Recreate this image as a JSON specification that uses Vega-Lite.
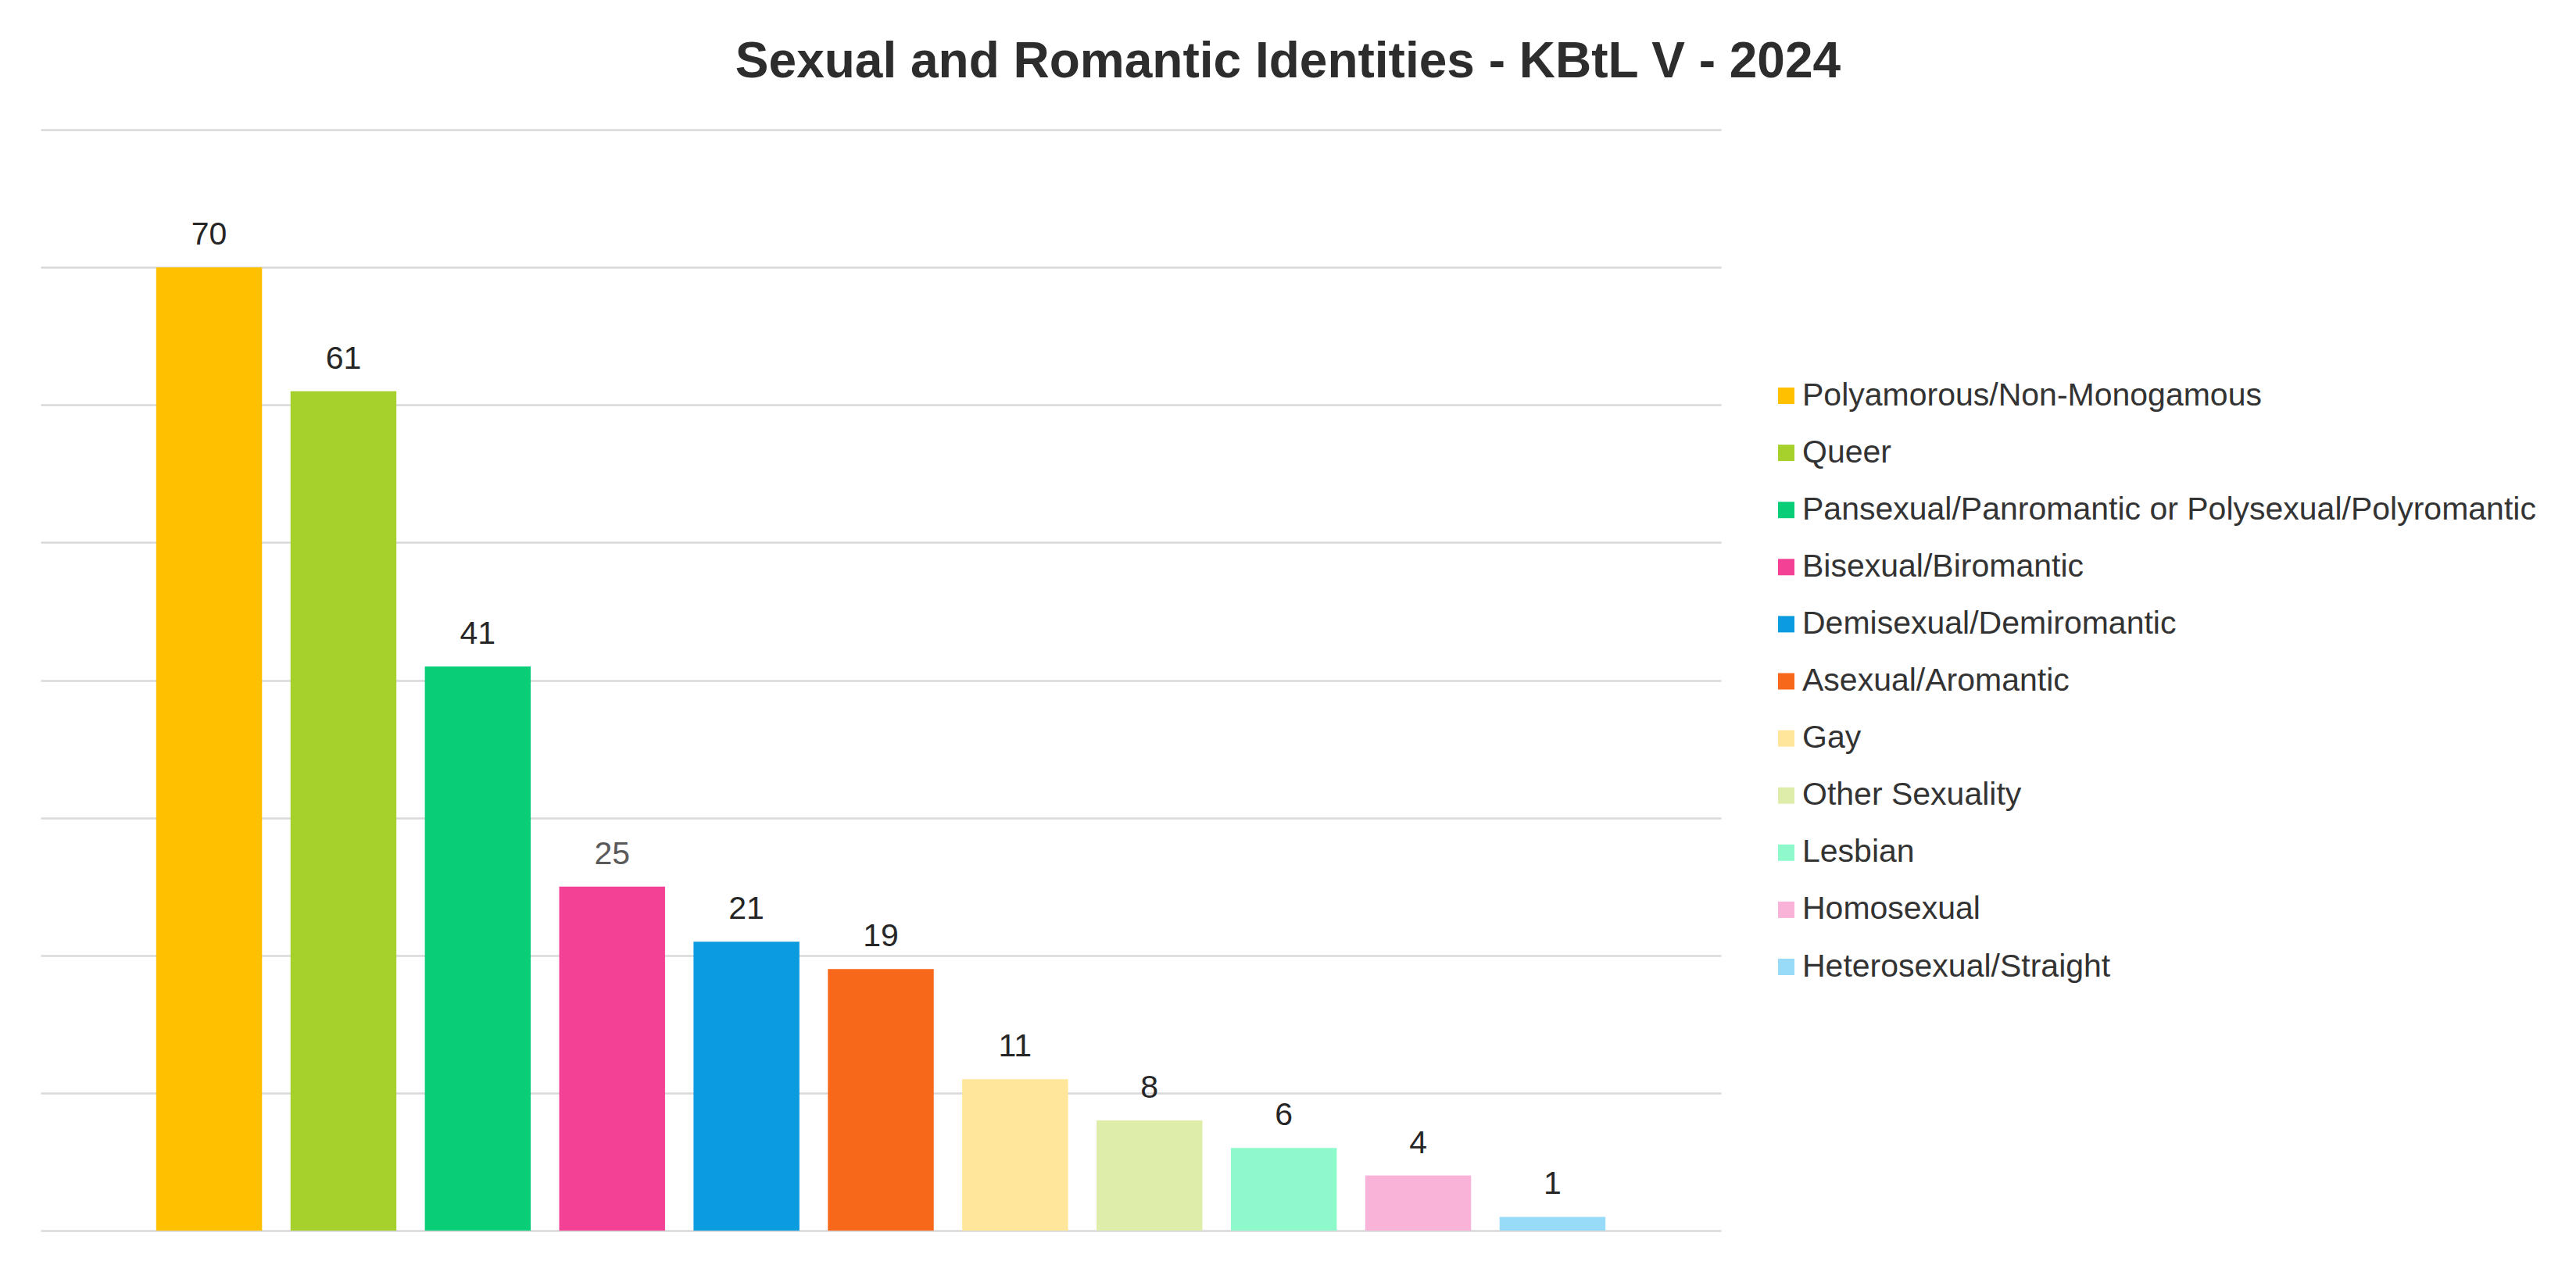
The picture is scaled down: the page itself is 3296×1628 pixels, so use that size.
{
  "$schema": "https://vega.github.io/schema/vega-lite/v6.json",
  "width": 2150,
  "height": 1409,
  "autosize": {"type": "none"},
  "padding": {"left": 52, "top": 166, "right": 1094, "bottom": 53},
  "background": "white",
  "config": {"view": {"stroke": null}},
  "title": {
    "text": "Sexual and Romantic Identities - KBtL V - 2024",
    "font": "Liberation Sans",
    "fontSize": 64,
    "fontWeight": "bold",
    "color": "#2d2d2d",
    "anchor": "middle",
    "dx": 521,
    "baseline": "alphabetic",
    "offset": 3
  },
  "data": {
    "values": [
      {"identity": "Polyamorous/Non-Monogamous", "count": 70},
      {"identity": "Queer", "count": 61},
      {"identity": "Pansexual/Panromantic or Polysexual/Polyromantic", "count": 41},
      {"identity": "Bisexual/Biromantic", "count": 25},
      {"identity": "Demisexual/Demiromantic", "count": 21},
      {"identity": "Asexual/Aromantic", "count": 19},
      {"identity": "Gay", "count": 11},
      {"identity": "Other Sexuality", "count": 8},
      {"identity": "Lesbian", "count": 6},
      {"identity": "Homosexual", "count": 4},
      {"identity": "Heterosexual/Straight", "count": 1}
    ]
  },
  "encoding": {
    "x": {
      "field": "identity",
      "type": "nominal",
      "sort": null,
      "axis": null,
      "scale": {"paddingInner": 0.212, "paddingOuter": 0.86}
    },
    "y": {
      "field": "count",
      "type": "quantitative",
      "scale": {"domain": [0, 80], "nice": false},
      "axis": {
        "values": [0, 10, 20, 30, 40, 50, 60, 70, 80],
        "labels": false,
        "ticks": false,
        "domain": false,
        "title": null,
        "grid": true,
        "gridColor": "#d9d9d9",
        "gridWidth": 2.7
      }
    }
  },
  "layer": [
    {
      "mark": {"type": "bar"},
      "encoding": {
        "color": {
          "field": "identity",
          "type": "nominal",
          "sort": null,
          "scale": {
            "domain": [
              "Polyamorous/Non-Monogamous",
              "Queer",
              "Pansexual/Panromantic or Polysexual/Polyromantic",
              "Bisexual/Biromantic",
              "Demisexual/Demiromantic",
              "Asexual/Aromantic",
              "Gay",
              "Other Sexuality",
              "Lesbian",
              "Homosexual",
              "Heterosexual/Straight"
            ],
            "range": [
              "#ffc000",
              "#a6d12d",
              "#0acd78",
              "#f34196",
              "#0b9bdf",
              "#f7681a",
              "#ffe69a",
              "#deeeaa",
              "#8efacb",
              "#f9b3d8",
              "#97dbf9"
            ]
          },
          "legend": {
            "title": null,
            "orient": "none",
            "legendX": 2213,
            "legendY": 320,
            "padding": 0,
            "symbolType": "square",
            "symbolSize": 441,
            "symbolStrokeWidth": 0,
            "labelFont": "Liberation Sans",
            "labelFontSize": 41,
            "labelColor": "#333333",
            "labelOffset": 0,
            "labelLimit": 1200,
            "rowPadding": 31.1
          }
        }
      }
    },
    {
      "mark": {
        "type": "text",
        "baseline": "alphabetic",
        "dy": -29,
        "font": "Liberation Sans",
        "fontSize": 41
      },
      "encoding": {
        "text": {"field": "count", "type": "quantitative"},
        "color": {
          "condition": {"test": "datum.count === 25", "value": "#595959"},
          "value": "#262626"
        }
      }
    }
  ]
}
